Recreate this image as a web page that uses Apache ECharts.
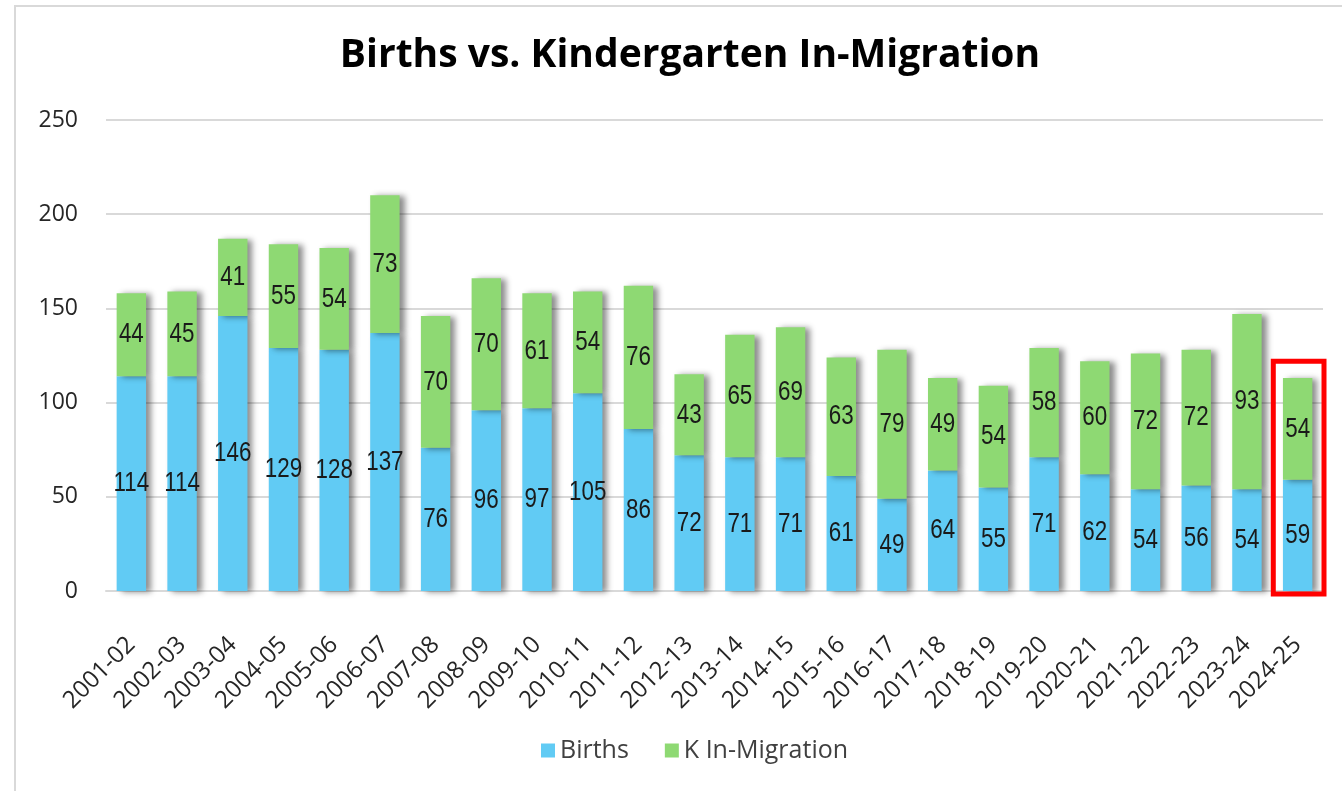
<!DOCTYPE html>
<html>
<head>
<meta charset="utf-8">
<title>Births vs. Kindergarten In-Migration</title>
<script src="https://cdn.jsdelivr.net/npm/echarts@6/dist/echarts.min.js"></script>
<style>
  html, body { margin: 0; padding: 0; background: #fff; }
  #chart { width: 1342px; height: 791px; }
</style>
</head>
<body>
<div id="chart"></div>
<script>
var years = ['2001-02','2002-03','2003-04','2004-05','2005-06','2006-07','2007-08','2008-09',
  '2009-10','2010-11','2011-12','2012-13','2013-14','2014-15','2015-16','2016-17','2017-18',
  '2018-19','2019-20','2020-21','2021-22','2022-23','2023-24','2024-25'];
var births = [114,114,146,129,128,137,76,96,97,105,86,72,71,71,61,49,64,55,71,62,54,56,54,59];
var kMigration = [44,45,41,55,54,73,70,70,61,54,76,43,65,69,63,79,49,54,58,60,72,72,93,54];
var yTicks = [0, 50, 100, 150, 200, 250];
var highlightYear = '2024-25';
var highlightTop = 122;

var chart = echarts.init(document.getElementById('chart'));

var uiFont = '"Open Sans", "Noto Sans", sans-serif';
var barShadow = {
  shadowColor: 'rgba(0,0,0,0.45)',
  shadowBlur: 6,
  shadowOffsetX: 5,
  shadowOffsetY: 1
};

// label points: [category index, middle of the segment, value shown]
var labelPoints = [];
births.forEach(function (b, i) {
  labelPoints.push([i, b / 2, b]);
  labelPoints.push([i, b + kMigration[i] / 2, kMigration[i]]);
});

// narrow-looking labels (no condensed font installed, so squeeze the text)
function renderLabel(params, api) {
  var p = api.coord([api.value(0), api.value(1)]);
  return {
    type: 'text',
    x: p[0],
    y: p[1],
    scaleX: 0.8,
    style: {
      text: String(api.value(2)),
      fontFamily: '"Liberation Sans", Arial, sans-serif',
      fontSize: 28,
      fill: '#1a1a1a',
      align: 'center',
      verticalAlign: 'middle'
    },
    silent: true
  };
}

chart.setOption({
  animation: false,
  title: {
    text: 'Births vs. Kindergarten In-Migration',
    left: 685,
    top: 31,
    textAlign: 'center',
    textStyle: {
      fontFamily: uiFont,
      fontWeight: 'bold',
      fontSize: 39,
      color: '#000'
    }
  },
  legend: {
    bottom: 23,
    left: 536,
    itemWidth: 14,
    itemHeight: 14,
    itemGap: 36,
    icon: 'rect',
    textStyle: {
      fontFamily: uiFont,
      fontSize: 25,
      color: '#404040'
    },
    data: ['Births', 'K In-Migration']
  },
  grid: {
    left: 106,
    right: 19,
    top: 120,
    bottom: 200,
    containLabel: false
  },
  xAxis: {
    type: 'category',
    data: years,
    axisTick: { show: false },
    axisLine: { lineStyle: { color: '#d9d9d9', width: 2 } },
    axisLabel: {
      rotate: 45,
      interval: 0,
      margin: 50,
      fontFamily: uiFont,
      fontSize: 24,
      color: '#262626'
    }
  },
  yAxis: {
    type: 'value',
    min: yTicks[0],
    max: yTicks[yTicks.length - 1],
    interval: 50,
    axisLine: { show: false },
    axisTick: { show: false },
    splitLine: { lineStyle: { color: '#d9d9d9', width: 2 } },
    axisLabel: {
      margin: 28,
      fontFamily: uiFont,
      fontSize: 23,
      color: '#262626'
    }
  },
  series: [
    {
      name: 'Births',
      type: 'bar',
      stack: 'total',
      barWidth: '58%',
      data: births,
      itemStyle: Object.assign({ color: '#61CBF4' }, barShadow)
    },
    {
      name: 'K In-Migration',
      type: 'bar',
      stack: 'total',
      barWidth: '58%',
      data: kMigration,
      itemStyle: Object.assign({ color: '#8ED973' }, barShadow)
    },
    {
      name: 'labels',
      type: 'custom',
      renderItem: renderLabel,
      encode: { x: 0, y: 1 },
      data: labelPoints,
      z: 5
    }
  ]
});

// red highlight box around the last year, placed from axis coordinates
var cx = chart.convertToPixel({ xAxisIndex: 0 }, highlightYear);
var band = chart.convertToPixel({ xAxisIndex: 0 }, years[1]) - chart.convertToPixel({ xAxisIndex: 0 }, years[0]);
var yTop = chart.convertToPixel({ yAxisIndex: 0 }, highlightTop);
var yBottom = chart.convertToPixel({ yAxisIndex: 0 }, 0);

chart.setOption({
  graphic: [
    {
      type: 'rect',
      shape: { x: 15, y: 6, width: 1400, height: 900 },
      style: { fill: 'none', stroke: '#d9d9d9', lineWidth: 2 },
      silent: true
    },
    {
      type: 'rect',
      shape: { x: cx - band / 2 + 1, y: yTop, width: band, height: yBottom - yTop + 3 },
      style: { fill: 'none', stroke: '#ff0000', lineWidth: 5 },
      z: 10,
      silent: true
    }
  ]
});
</script>
</body>
</html>
